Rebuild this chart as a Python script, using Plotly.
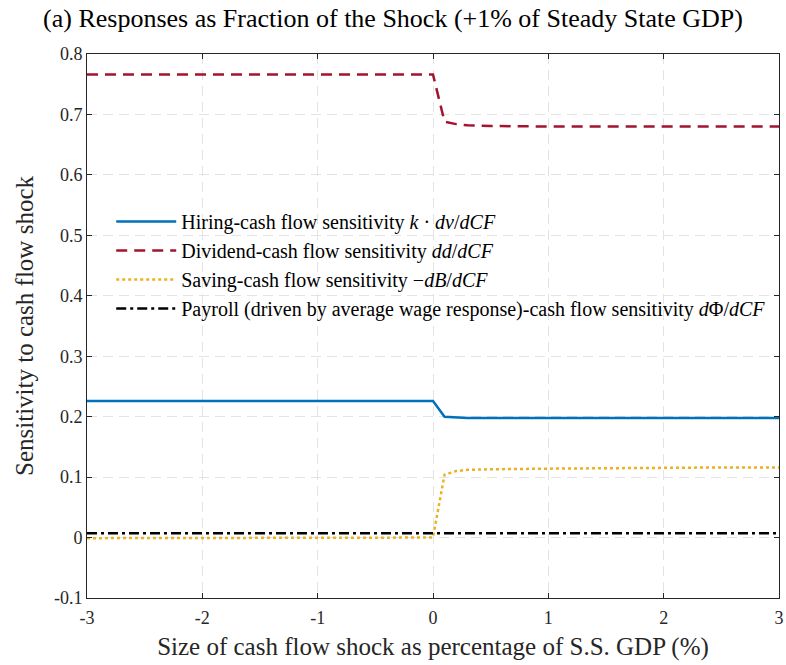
import plotly.graph_objects as go

# Shock size (% of S.S. GDP)
shock = [-3, -2, -1, 0, 0.1, 0.2, 0.3, 0.5, 1, 1.5, 2, 2.5, 3]

hiring   = [0.226, 0.226, 0.226, 0.226, 0.200, 0.199, 0.198, 0.198, 0.198, 0.198, 0.198, 0.198, 0.198]
dividend = [0.766, 0.766, 0.766, 0.766, 0.688, 0.684, 0.682, 0.681, 0.680, 0.680, 0.680, 0.680, 0.680]
saving   = [-0.001, -0.001, -0.001, 0.000, 0.104, 0.110, 0.112, 0.113, 0.114, 0.115, 0.115, 0.116, 0.116]
payroll  = [0.007, 0.007, 0.007, 0.007, 0.007, 0.007, 0.007, 0.007, 0.007, 0.007, 0.007, 0.007, 0.007]

x_ticks = [-3, -2, -1, 0, 1, 2, 3]
x_tick_labels = ["-3", "-2", "-1", "0", "1", "2", "3"]
y_ticks = [-0.1, 0, 0.1, 0.2, 0.3, 0.4, 0.5, 0.6, 0.7, 0.8]
y_tick_labels = ["-0.1", "0", "0.1", "0.2", "0.3", "0.4", "0.5", "0.6", "0.7", "0.8"]

names = [
    "Hiring-cash flow sensitivity <i>k</i> · <i>dv</i>/<i>dCF</i>",
    "Dividend-cash flow sensitivity <i>dd</i>/<i>dCF</i>",
    "Saving-cash flow sensitivity −<i>dB</i>/<i>dCF</i>",
    "Payroll (driven by average wage response)-cash flow sensitivity <i>d</i>Φ/<i>dCF</i>",
]

serif = "Liberation Serif"

fig = go.Figure()
fig.add_trace(go.Scatter(x=shock, y=hiring, mode="lines", name=names[0],
                         line=dict(color="#0072BD", width=2.5)))
fig.add_trace(go.Scatter(x=shock, y=dividend, mode="lines", name=names[1],
                         line=dict(color="#A2142F", width=2.5, dash="11px,7px")))
fig.add_trace(go.Scatter(x=shock, y=saving, mode="lines", name=names[2],
                         line=dict(color="#EDB120", width=2.5, dash="3px,3px")))
fig.add_trace(go.Scatter(x=shock, y=payroll, mode="lines", name=names[3],
                         line=dict(color="#000000", width=2.5, dash="10px,4px,3px,4px")))

axis_common = dict(
    showline=True, linecolor="#262626", linewidth=1, mirror="ticks",
    ticks="inside", ticklen=5, tickcolor="#262626",
    showgrid=True, gridcolor="#e3e3e3", griddash="10px,6px", gridwidth=1,
    zeroline=False, automargin=False, ticklabeloverflow="allow",
    tickfont=dict(family=serif, size=18, color="#262626"),
)

fig.update_layout(
    width=786, height=665,
    margin=dict(l=87, r=7, t=54, b=67, autoexpand=False),
    paper_bgcolor="white", plot_bgcolor="white",
    title=dict(text="(a) Responses as Fraction of the Shock (+1% of Steady State GDP)",
               x=0.5, xanchor="center", y=0.973, yanchor="middle",
               font=dict(family=serif, size=26, color="#000000")),
    xaxis=dict(range=[-3, 3], tickvals=x_ticks, ticktext=x_tick_labels,
               ticklabelstandoff=3,
               title=dict(text="Size of cash flow shock as percentage of S.S. GDP (%)",
                          font=dict(family=serif, size=25, color="#262626"), standoff=10),
               **axis_common),
    yaxis=dict(range=[-0.1, 0.8], tickvals=y_ticks, ticktext=y_tick_labels,
               title=dict(text="Sensitivity to cash flow shock",
                          font=dict(family=serif, size=25, color="#262626"), standoff=13),
               **axis_common),
    legend=dict(x=0.035, y=0.728, xanchor="left", yanchor="top",
                bgcolor="rgba(255,255,255,0)", borderwidth=0,
                font=dict(family=serif, size=20, color="#000000"),
                itemwidth=60, tracegroupgap=0),
    showlegend=True,
)

fig.write_html("out.html", post_script="document.body.style.margin='0';",
               config={"displayModeBar": False})
